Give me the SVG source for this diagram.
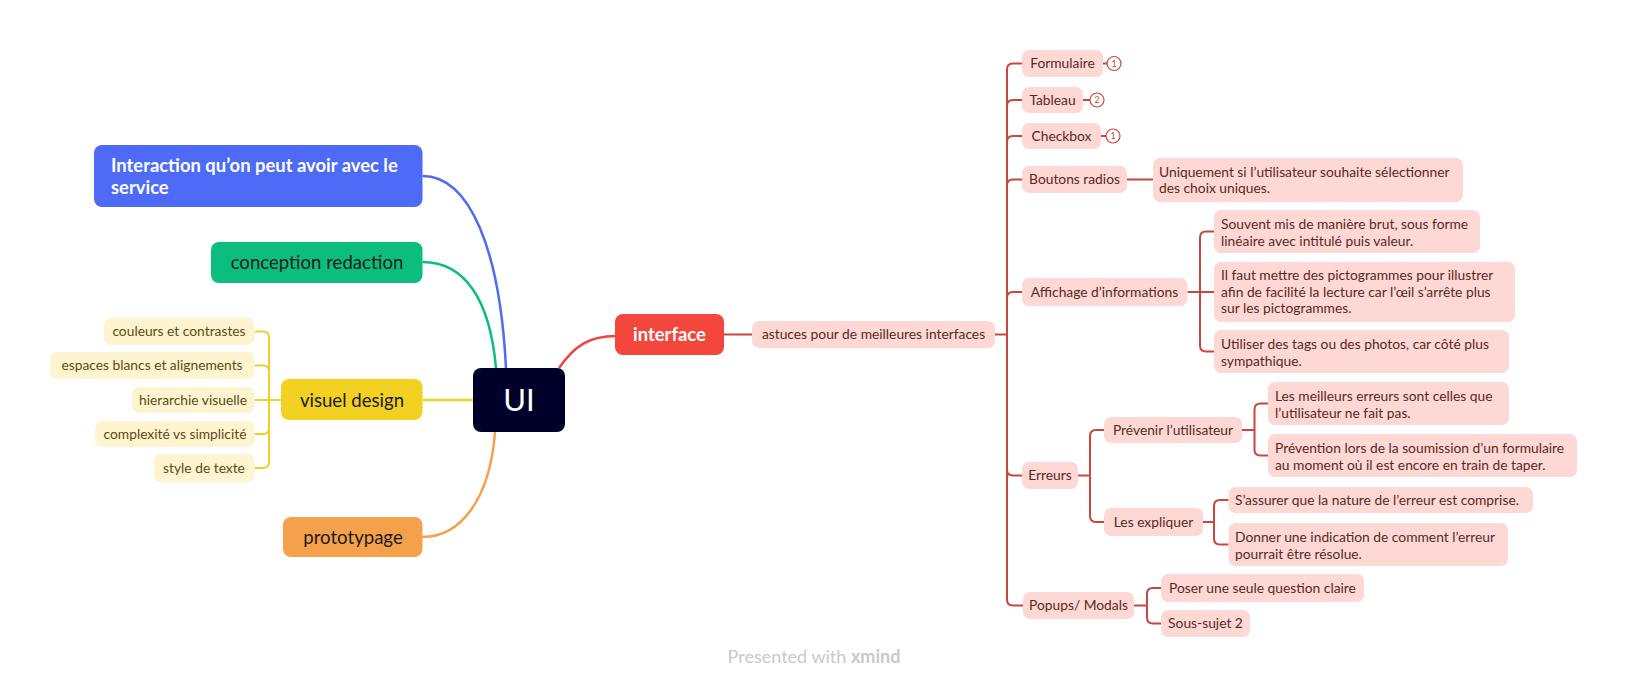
<svg xmlns="http://www.w3.org/2000/svg" width="1628" height="688" viewBox="0 0 1628 688">
<style>
text{font-family:Lato,"Noto Sans","Liberation Sans",sans-serif}
.main{font-size:18.6px;fill:#1b1b1b}
.mainw{font-size:18.4px;fill:#ffffff;font-weight:bold}
.pk{fill:#FDD8D5}
.ye{fill:#FEF5D0}
.pt{font-size:13.8px;fill:#5a2823}
.yt{font-size:13.8px;fill:#5b4a12}
.rl{fill:none;stroke:#C9463D;stroke-width:2}
.yl{fill:none;stroke:#F0CF2A;stroke-width:2}
.badge{fill:#fff;stroke:#C9463D;stroke-width:1.2}
.bt{font-size:9px;fill:#C9463D;text-anchor:middle}
</style>
<rect width="1628" height="688" fill="#ffffff"/>
<g id="connectors">
<path d="M422.5,176 C470,176 500,250 506,368" fill="none" stroke="#4D6BF6" stroke-width="2.5"/>
<path d="M422.5,262 C465,262 490,300 496,368" fill="none" stroke="#0BBE7E" stroke-width="2.5"/>
<path d="M422.5,400 H473" fill="none" stroke="#F2D122" stroke-width="2.5"/>
<path d="M495,432 C490,500 460,537 422.5,537" fill="none" stroke="#F5A04B" stroke-width="2.5"/>
<path d="M559,368 C575,345 590,336 616,336" fill="none" stroke="#E9473F" stroke-width="2.5"/>
<path d="M724,334.5 H752" class="rl"/>
<path d="M269,400 H281" class="yl"/>
<path d="M269,400 V337.5 Q269,331.5 263,331.5 H254.5" class="yl"/>
<path d="M269,400 V371.5 Q269,365.5 263,365.5 H254.5" class="yl"/>
<path d="M269,400 H254.5" class="yl"/>
<path d="M269,400 V428 Q269,434 263,434 H254.5" class="yl"/>
<path d="M269,400 V462 Q269,468 263,468 H254.5" class="yl"/>
<path d="M995,334.5 H1007" class="rl"/>
<path d="M1007,334.5 V69.5 Q1007,63.5 1013,63.5 H1022" class="rl"/>
<path d="M1007,334.5 V106 Q1007,100 1013,100 H1022" class="rl"/>
<path d="M1007,334.5 V142 Q1007,136 1013,136 H1022" class="rl"/>
<path d="M1007,334.5 V185.5 Q1007,179.5 1013,179.5 H1022" class="rl"/>
<path d="M1007,334.5 V298 Q1007,292 1013,292 H1022" class="rl"/>
<path d="M1007,334.5 V469.5 Q1007,475.5 1013,475.5 H1022" class="rl"/>
<path d="M1007,334.5 V599.5 Q1007,605.5 1013,605.5 H1023" class="rl"/>
<path d="M1103,63.5 H1107" class="rl"/>
<path d="M1083,100 H1090" class="rl"/>
<path d="M1101,136 H1106" class="rl"/>
<path d="M1127,179.5 H1153" class="rl"/>
<path d="M1187.5,292 H1214" class="rl"/>
<path d="M1200,292 V237.5 Q1200,231.5 1206,231.5 H1214" class="rl"/>
<path d="M1200,292 V345.5 Q1200,351.5 1206,351.5 H1214" class="rl"/>
<path d="M1078,475.5 H1090" class="rl"/>
<path d="M1090,475.5 V436 Q1090,430 1096,430 H1104" class="rl"/>
<path d="M1090,475.5 V516 Q1090,522 1096,522 H1104" class="rl"/>
<path d="M1242,430 H1254.5" class="rl"/>
<path d="M1254.5,430 V409.5 Q1254.5,403.5 1260.5,403.5 H1268" class="rl"/>
<path d="M1254.5,430 V449.5 Q1254.5,455.5 1260.5,455.5 H1268" class="rl"/>
<path d="M1203,522 H1214" class="rl"/>
<path d="M1214,522 V506 Q1214,500 1220,500 H1228.5" class="rl"/>
<path d="M1214,522 V538.5 Q1214,544.5 1220,544.5 H1228.5" class="rl"/>
<path d="M1134,605.5 H1147" class="rl"/>
<path d="M1147,605.5 V594 Q1147,588 1153,588 H1161" class="rl"/>
<path d="M1147,605.5 V617.5 Q1147,623.5 1153,623.5 H1161" class="rl"/>
</g>
<g id="ui"><rect x="473" y="368" width="92" height="64" rx="8" fill="#00012A"/><text x="519" y="411" font-size="31" fill="#fff" text-anchor="middle">UI</text></g>
<g id="interaction"><rect x="94" y="145" width="328.5" height="62" rx="8" fill="#4D6BF6"/><text x="111" y="172" class="mainw">Interaction qu’on peut avoir avec le</text><text x="111" y="194" class="mainw">service</text></g>
<g id="conception"><rect x="211" y="242" width="211.5" height="41" rx="8" fill="#0BBE7E"/><text x="317" y="269" class="main" text-anchor="middle">conception redaction</text></g>
<g id="visuel"><rect x="281" y="379" width="141.5" height="41" rx="8" fill="#F2D122"/><text x="352" y="406.5" class="main" text-anchor="middle">visuel design</text></g>
<g id="prototypage"><rect x="283" y="517" width="139.5" height="40" rx="8" fill="#F5A04B"/><text x="353" y="543.5" class="main" text-anchor="middle">prototypage</text></g>
<g id="couleurs"><rect x="104" y="318" width="150.5" height="27" rx="7" class="ye"/><text x="179" y="336" class="yt" text-anchor="middle">couleurs et contrastes</text></g>
<g id="espaces"><rect x="50" y="352" width="204.5" height="27" rx="7" class="ye"/><text x="152" y="370" class="yt" text-anchor="middle">espaces blancs et alignements</text></g>
<g id="hierarchie"><rect x="132" y="387" width="122.5" height="26" rx="7" class="ye"/><text x="193" y="404.5" class="yt" text-anchor="middle">hierarchie visuelle</text></g>
<g id="complexite"><rect x="95" y="421" width="159.5" height="26" rx="7" class="ye"/><text x="175" y="438.5" class="yt" text-anchor="middle">complexité vs simplicité</text></g>
<g id="style"><rect x="154" y="454" width="100.5" height="28" rx="7" class="ye"/><text x="204" y="472.5" class="yt" text-anchor="middle">style de texte</text></g>
<g id="interface"><rect x="615" y="314" width="109" height="41" rx="8" fill="#F3473E"/><text x="669.5" y="341" class="mainw" text-anchor="middle">interface</text></g>
<g id="astuces"><rect x="752" y="321" width="243" height="27" rx="7" class="pk"/><text x="873.5" y="339" class="pt" text-anchor="middle">astuces pour de meilleures interfaces</text></g>
<g id="formulaire"><rect x="1022" y="50" width="81" height="27" rx="7" class="pk"/><text x="1062.5" y="68" class="pt" text-anchor="middle">Formulaire</text><circle cx="1114" cy="63.5" r="7" class="badge"/><text x="1114" y="66.5" class="bt">1</text></g>
<g id="tableau"><rect x="1022" y="87" width="61" height="26" rx="7" class="pk"/><text x="1052.5" y="104.5" class="pt" text-anchor="middle">Tableau</text><circle cx="1097" cy="100" r="7" class="badge"/><text x="1097" y="103" class="bt">2</text></g>
<g id="checkbox"><rect x="1022" y="123" width="79" height="26" rx="7" class="pk"/><text x="1061.5" y="140.5" class="pt" text-anchor="middle">Checkbox</text><circle cx="1113" cy="136" r="7" class="badge"/><text x="1113" y="139" class="bt">1</text></g>
<g id="boutons"><rect x="1022" y="166" width="105" height="27" rx="7" class="pk"/><text x="1074.5" y="184" class="pt" text-anchor="middle">Boutons radios</text></g>
<g id="uniquement"><rect x="1153" y="158" width="310" height="44" rx="7" class="pk"/><text x="1159" y="177" class="pt">Uniquement si l’utilisateur souhaite sélectionner</text><text x="1159" y="193" class="pt">des choix uniques.</text></g>
<g id="affichage"><rect x="1022" y="278" width="165.5" height="28" rx="7" class="pk"/><text x="1104.5" y="296.5" class="pt" text-anchor="middle">Affichage d’informations</text></g>
<g id="souvent"><rect x="1214" y="210" width="266" height="43" rx="7" class="pk"/><text x="1221" y="229" class="pt">Souvent mis de manière brut, sous forme</text><text x="1221" y="245.5" class="pt">linéaire avec intitulé puis valeur.</text></g>
<g id="pictogrammes"><rect x="1214" y="262" width="301" height="60" rx="7" class="pk"/><text x="1221" y="280" class="pt">Il faut mettre des pictogrammes pour illustrer</text><text x="1221" y="296.5" class="pt">afin de facilité la lecture car l’œil s’arrête plus</text><text x="1221" y="313" class="pt">sur les pictogrammes.</text></g>
<g id="tags"><rect x="1214" y="330" width="295" height="43" rx="7" class="pk"/><text x="1221" y="349" class="pt">Utiliser des tags ou des photos, car côté plus</text><text x="1221" y="365.5" class="pt">sympathique.</text></g>
<g id="erreurs"><rect x="1022" y="462" width="56" height="27" rx="7" class="pk"/><text x="1050" y="480" class="pt" text-anchor="middle">Erreurs</text></g>
<g id="prevenir"><rect x="1104" y="417" width="138" height="26" rx="7" class="pk"/><text x="1173" y="434.5" class="pt" text-anchor="middle">Prévenir l’utilisateur</text></g>
<g id="meilleurs"><rect x="1268" y="382" width="241" height="43" rx="7" class="pk"/><text x="1275" y="401" class="pt">Les meilleurs erreurs sont celles que</text><text x="1275" y="417.5" class="pt">l’utilisateur ne fait pas.</text></g>
<g id="prevention"><rect x="1268" y="434" width="309" height="43" rx="7" class="pk"/><text x="1275" y="453" class="pt">Prévention lors de la soumission d’un formulaire</text><text x="1275" y="469.5" class="pt">au moment où il est encore en train de taper.</text></g>
<g id="expliquer"><rect x="1104" y="508" width="99" height="28" rx="7" class="pk"/><text x="1153.5" y="526.5" class="pt" text-anchor="middle">Les expliquer</text></g>
<g id="assurer"><rect x="1228.5" y="487" width="304.5" height="26" rx="7" class="pk"/><text x="1235" y="504.5" class="pt">S’assurer que la nature de l’erreur est comprise.</text></g>
<g id="donner"><rect x="1228.5" y="523" width="279.5" height="43" rx="7" class="pk"/><text x="1235" y="542" class="pt">Donner une indication de comment l’erreur</text><text x="1235" y="558.5" class="pt">pourrait être résolue.</text></g>
<g id="popups"><rect x="1023" y="592" width="111" height="27" rx="7" class="pk"/><text x="1078.5" y="610" class="pt" text-anchor="middle">Popups/ Modals</text></g>
<g id="poser"><rect x="1161" y="574" width="203" height="28" rx="7" class="pk"/><text x="1262.5" y="592.5" class="pt" text-anchor="middle">Poser une seule question claire</text></g>
<g id="soussujet"><rect x="1161" y="610" width="89" height="27" rx="7" class="pk"/><text x="1205.5" y="628" class="pt" text-anchor="middle">Sous-sujet 2</text></g>
<g id="footer"><text x="814" y="663" font-size="18" fill="#c9c9c9" text-anchor="middle">Presented with <tspan font-weight="bold">xmind</tspan></text></g>
</svg>
